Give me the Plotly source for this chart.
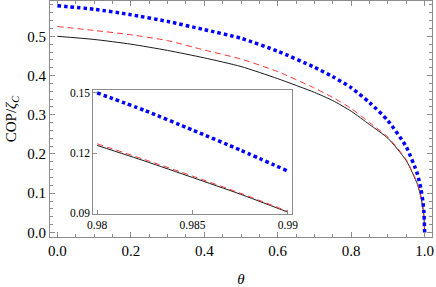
import plotly.graph_objects as go

# Main curves
theta = [0.0, 0.1, 0.2, 0.3, 0.4, 0.5, 0.6, 0.7, 0.75, 0.8, 0.85, 0.9, 0.95,
         0.98, 0.985, 0.99, 0.995, 0.998, 1.0]
cop_black = [0.500, 0.492, 0.480, 0.464, 0.445, 0.423, 0.392, 0.357, 0.336, 0.309,
             0.275, 0.240, 0.183, 0.1238, 0.1078, 0.0905, 0.064, 0.041, 0.0]
cop_red = [0.525, 0.515, 0.504, 0.489, 0.465, 0.442, 0.410, 0.368, 0.344, 0.316,
           0.280, 0.243, 0.185, 0.1246, 0.1085, 0.0909, 0.065, 0.041, 0.0]
cop_blue = [0.578, 0.569, 0.555, 0.538, 0.517, 0.495, 0.462, 0.421, 0.397, 0.369,
            0.331, 0.285, 0.218, 0.150, 0.1315, 0.111, 0.080, 0.052, 0.0]

# Inset curves
inset_theta = [0.98, 0.9825, 0.985, 0.9875, 0.99]
inset_black = [0.1238, 0.1160, 0.1078, 0.0995, 0.0905]
inset_red = [0.1246, 0.1167, 0.1085, 0.1000, 0.0909]
inset_blue = [0.1500, 0.1412, 0.1315, 0.1215, 0.1110]

# Tick labels
x_tickvals = [0.0, 0.2, 0.4, 0.6, 0.8, 1.0]
x_ticktext = ["0.0", "0.2", "0.4", "0.6", "0.8", "1.0"]
y_tickvals = [0.0, 0.1, 0.2, 0.3, 0.4, 0.5]
y_ticktext = ["0.0", "0.1", "0.2", "0.3", "0.4", "0.5"]
ix_tickvals = [0.98, 0.985, 0.99]
ix_ticktext = ["0.98", "0.985", "0.99"]
iy_tickvals = [0.09, 0.12, 0.15]
iy_ticktext = ["0.09", "0.12", "0.15"]

FRAME = "#8c8c8c"
BLACK = "#1a1a1a"
RED = "#ff3333"
BLUE = "#0000ff"
SERIF = "Liberation Serif, Times New Roman, serif"

fig = go.Figure()

def add_set(x, yb, yr, yblue, xa, ya):
    fig.add_trace(go.Scatter(x=x, y=yb, mode="lines", xaxis=xa, yaxis=ya, hoverinfo="skip",
                             line=dict(color=BLACK, width=1, shape="spline", smoothing=0.6)))
    fig.add_trace(go.Scatter(x=x, y=yr, mode="lines", xaxis=xa, yaxis=ya, hoverinfo="skip",
                             line=dict(color=RED, width=1, dash="6px,4px", shape="spline", smoothing=0.6)))
    fig.add_trace(go.Scatter(x=x, y=yblue, mode="lines", xaxis=xa, yaxis=ya, hoverinfo="skip",
                             line=dict(color=BLUE, width=3.5, dash="3.5px,3px", shape="spline", smoothing=0.6)))

add_set(theta, cop_black, cop_red, cop_blue, "x", "y")
add_set(inset_theta, inset_black, inset_red, inset_blue, "x2", "y2")

axis_common = dict(showline=True, linecolor=FRAME, linewidth=1, showgrid=False,
                   zeroline=False, ticks="inside", tickcolor=FRAME, tickwidth=1,
                   automargin=False)

fig.update_layout(
    width=436, height=287,
    margin=dict(l=50, r=4, t=1, b=50),
    paper_bgcolor="white", plot_bgcolor="white", showlegend=False,
    font=dict(family=SERIF, size=15, color="black"),
    xaxis=dict(**axis_common, domain=[0, 1], range=[-0.02, 1.02], mirror="allticks",
               ticklen=5, tickvals=x_tickvals, ticktext=x_ticktext,
               minor=dict(ticks="inside", ticklen=3, tick0=0, dtick=0.05, tickcolor=FRAME),
               title=dict(text="<i>θ</i>", standoff=17, font=dict(size=15))),
    yaxis=dict(**axis_common, domain=[0, 1], range=[-0.0116, 0.59], mirror="allticks",
               ticklen=5, tickvals=y_tickvals, ticktext=y_ticktext,
               minor=dict(ticks="inside", ticklen=3, tick0=0, dtick=0.02, tickcolor=FRAME),
               title=dict(text="COP/<i>ζ</i><sub><i>C</i></sub>", standoff=7, font=dict(size=15))),
    xaxis2=dict(**axis_common, domain=[0.1134, 0.6327], anchor="y2", range=[0.9798, 0.9902],
                mirror=True, ticklen=4, tickvals=ix_tickvals, ticktext=ix_ticktext,
                tickfont=dict(size=11.5)),
    yaxis2=dict(**axis_common, domain=[0.0985, 0.625], anchor="x2", range=[0.0897, 0.1517],
                mirror=True, ticklen=4, tickvals=iy_tickvals, ticktext=iy_ticktext,
                tickfont=dict(size=11.5)),
)

fig.write_html("out.html", config={"displayModeBar": False},
               post_script="document.body.style.margin='0';")
